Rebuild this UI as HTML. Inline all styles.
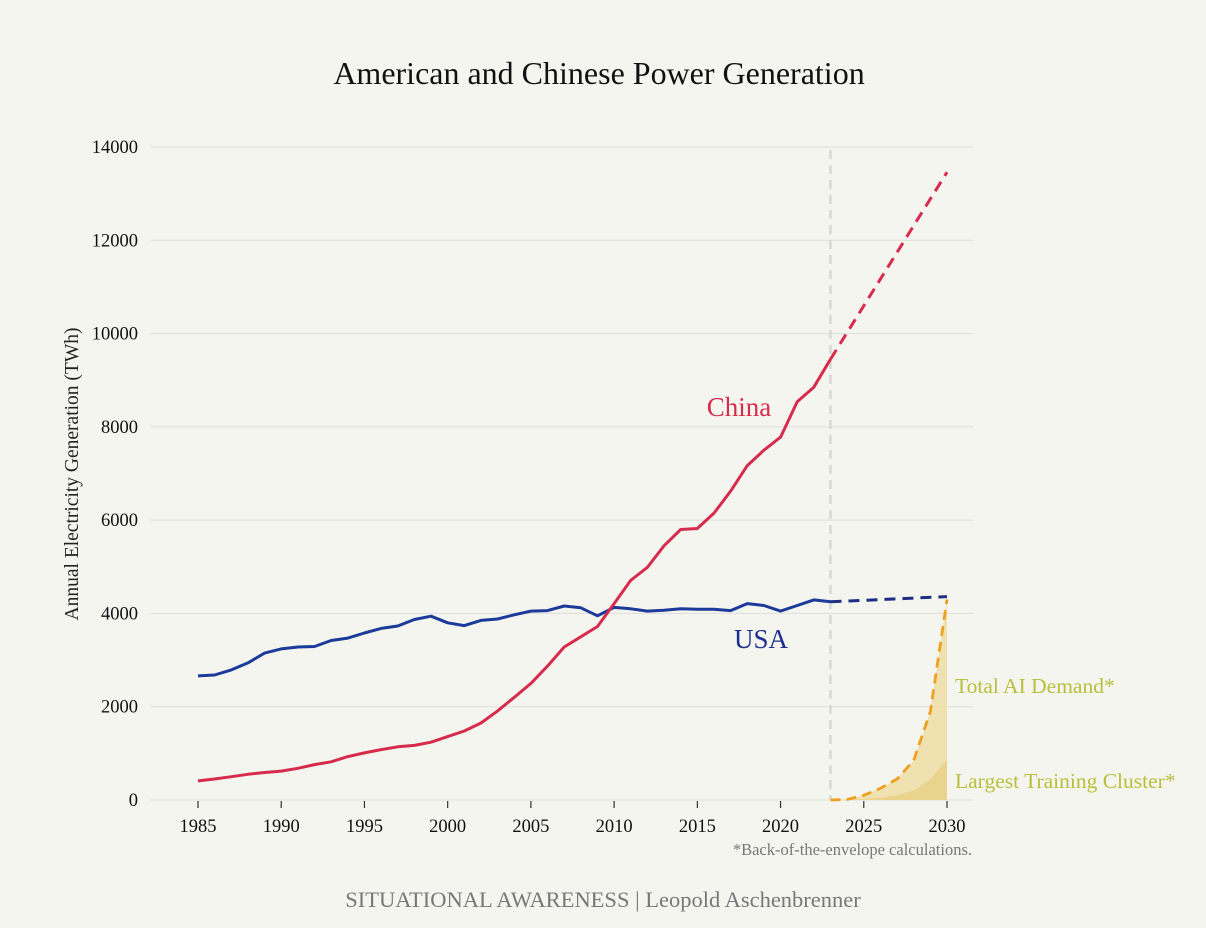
<!DOCTYPE html>
<html><head><meta charset="utf-8"><style>
html,body{margin:0;padding:0;background:#f5f5f0;}
svg{display:block;font-family:"Liberation Serif",serif;}
</style></head><body>
<svg id="chart" width="1206" height="928" viewBox="0 0 1206 928">
<rect width="1206" height="928" fill="#f5f5f0"/>
<text x="599" y="84" text-anchor="middle" font-size="32" fill="#111">American and Chinese Power Generation</text>
<g id="grid"></g><g id="axes"></g><g id="marks"></g>
<text transform="translate(78,474) rotate(-90)" text-anchor="middle" font-size="19.5" fill="#222">Annual Electricity Generation (TWh)</text>
<text x="739" y="416" text-anchor="middle" font-size="27" fill="#d62b4c">China</text>
<text x="761" y="648" text-anchor="middle" font-size="27" fill="#1c2f8f">USA</text>
<text x="955" y="693" font-size="21.5" fill="#b8bf3a">Total AI Demand*</text>
<text x="955" y="788" font-size="21.5" fill="#b8bf3a">Largest Training Cluster*</text>
<text x="972" y="855" text-anchor="end" font-size="16.5" fill="#777">*Back-of-the-envelope calculations.</text>
<text x="603" y="907" text-anchor="middle" font-size="22.5" fill="#777">SITUATIONAL AWARENESS | Leopold Aschenbrenner</text>
</svg>
<script>
const years = [];
for (let y = 1985; y <= 2023; y++) years.push(y);
const usa = [2660,2680,2790,2940,3150,3240,3280,3290,3420,3470,3580,3680,3730,3870,3940,3800,3740,3850,3880,3970,4050,4060,4160,4120,3950,4130,4100,4050,4070,4100,4090,4090,4060,4210,4170,4050,4170,4290,4250];
const china = [410,450,500,550,590,620,680,760,820,930,1010,1080,1140,1170,1240,1360,1480,1650,1910,2200,2500,2870,3280,3500,3720,4210,4710,4990,5450,5800,5820,6150,6620,7170,7500,7780,8540,8850,9450];
const projYears = [2023,2030];
const usaProj = [4250,4360];
const chinaProj = [9450,13460];
const aiYears = [2023,2024,2025,2026,2027,2028,2029,2030];
const aiDemand = [0,10,100,250,450,850,1900,4300];
const clusterDemand = [0,5,20,50,100,200,450,860];
const yTicks = [0,2000,4000,6000,8000,10000,12000,14000];
const xTicks = [1985,1990,1995,2000,2005,2010,2015,2020,2025,2030];

const NS='http://www.w3.org/2000/svg';
const X = v => 198 + (v-1985)*(947-198)/45;
const Y = v => 800 - v*(800-147)/14000;
function mk(tag, attrs, parent){const e=document.createElementNS(NS,tag);for(const k in attrs)e.setAttribute(k,attrs[k]);document.getElementById(parent).appendChild(e);return e;}
const pts=(xs,ys)=>xs.map((x,i)=>X(x).toFixed(1)+','+Y(ys[i]).toFixed(1)).join(' ');

yTicks.forEach(t=>{
  const l=mk('line',{x1:150,x2:973,y1:Y(t),y2:Y(t),stroke:'#dddddb','stroke-width':1},'grid');
  
  
  const tx=mk('text',{x:138,y:Y(t)+6,'text-anchor':'end','font-size':18.5,fill:'#111'},'axes');
  tx.textContent=t;
  
  
});
xTicks.forEach(t=>{
  const l=mk('line',{x1:X(t),x2:X(t),y1:801,y2:808,stroke:'#333','stroke-width':1.2},'axes');
  
  
  const tx=mk('text',{x:X(t),y:832,'text-anchor':'middle','font-size':18.5,fill:'#111'},'axes');
  tx.textContent=t;
  
  
});
const vl=mk('line',{x1:X(2023),x2:X(2023),y1:150,y2:800,stroke:'#d8d8d8','stroke-width':2.5,'stroke-dasharray':'9,6'},'marks');



const aiArea=mk('polygon',{points:pts(aiYears,aiDemand)+' '+X(2030)+','+Y(0)+' '+X(2023)+','+Y(0),fill:'#f0dfa8',opacity:0.9},'marks');


const clArea=mk('polygon',{points:pts(aiYears,clusterDemand)+' '+X(2030)+','+Y(0)+' '+X(2023)+','+Y(0),fill:'#e8cf84',opacity:0.8},'marks');


const aiLine=mk('polyline',{points:pts(aiYears,aiDemand),fill:'none',stroke:'#f0a020','stroke-width':2.8,'stroke-dasharray':'10,6'},'marks');



const uL=mk('polyline',{points:pts(years,usa),fill:'none',stroke:'#1c3a99','stroke-width':3,'stroke-linejoin':'round'},'marks');


const uP=mk('polyline',{points:pts(projYears,usaProj),fill:'none',stroke:'#1c2f80','stroke-width':3,'stroke-dasharray':'11,7'},'marks');


const cL=mk('polyline',{points:pts(years,china),fill:'none',stroke:'#d62b4c','stroke-width':3,'stroke-linejoin':'round'},'marks');


const cP=mk('polyline',{points:pts(projYears,chinaProj),fill:'none',stroke:'#d62b4c','stroke-width':3,'stroke-dasharray':'11,7'},'marks');


</script>
</body></html>
